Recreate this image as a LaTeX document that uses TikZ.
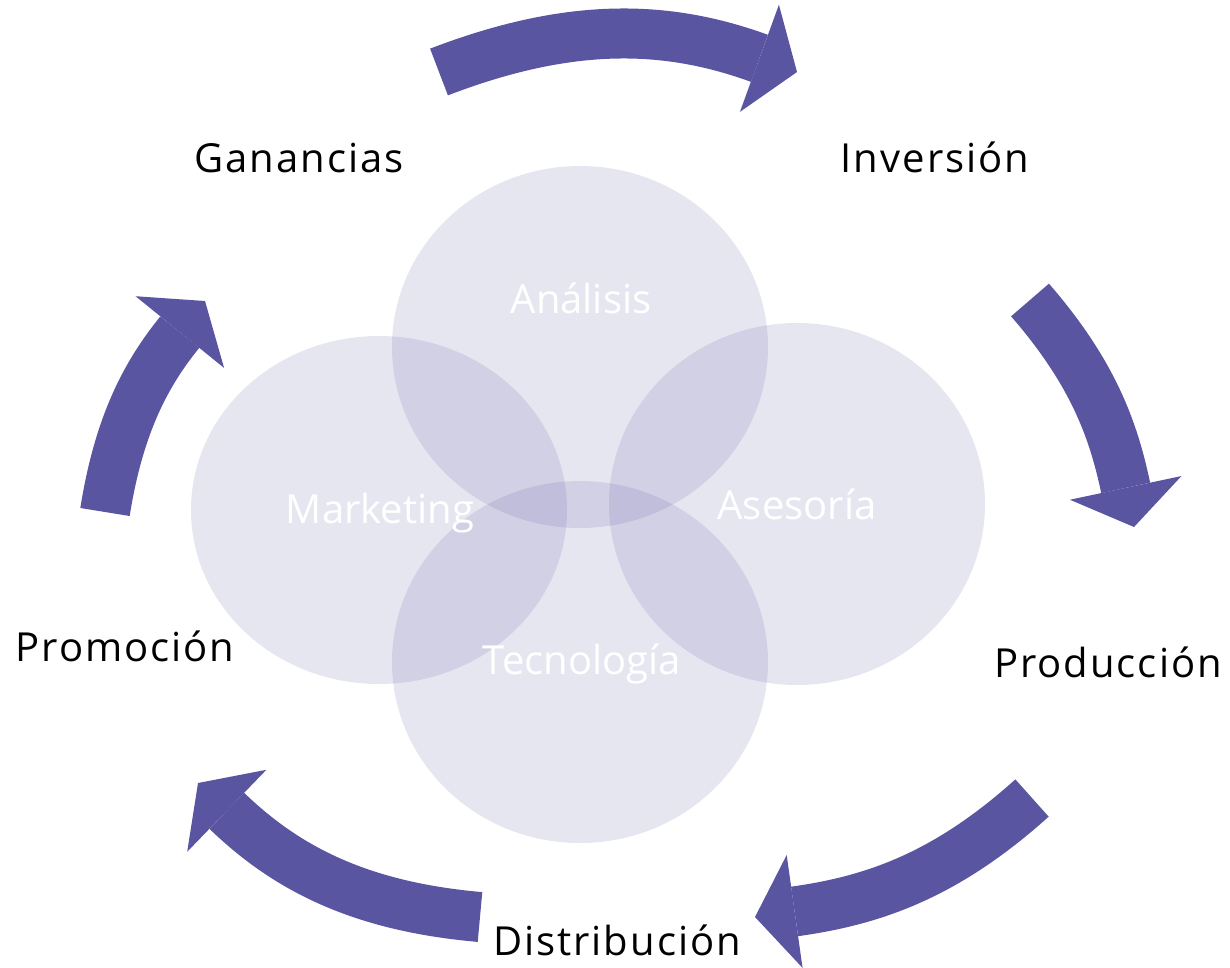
\documentclass[tikz,border=0pt]{standalone}
\usepackage{fontspec}
\setmainfont{Open Sans}[LetterSpace=5]
\newfontfamily\bubblefont{Open Sans}
\usetikzlibrary{arrows.meta,shapes.geometric}
\definecolor{cyclepurple}{RGB}{90,85,160}

\begin{document}
\begin{tikzpicture}[x=1pt,y=-1pt,
    bubble/.style={ellipse, fill=cyclepurple, fill opacity=0.15, minimum width=376pt, minimum height=362pt, inner sep=0pt},
    bubbletext/.style={anchor=base, text=white, font=\bubblefont\fontsize{40}{48}\selectfont},
    stage/.style={anchor=base, text=black, font=\fontsize{40}{48}\selectfont},
    cyclearrow/.style={draw=cyclepurple, line width=50pt, -{Triangle[length=40pt,width=114pt,line width=0pt]}},
]

\useasboundingbox (0,0) rectangle (1230,967);

\node[bubble] (analisis) at (580,347) {};
\node[bubble, minimum height=348pt] (marketing) at (379,510) {};
\node[bubble] (asesoria) at (797,504) {};
\node[bubble] (tecnologia) at (580,662) {};

\node[bubbletext] (analisis label) at (581,313) {Análisis};
\node[bubbletext] (marketing label) at (380,523) {Marketing};
\node[bubbletext] (asesoria label) at (797,519) {Asesoría};
\node[bubbletext] (tecnologia label) at (582,674) {Tecnología};

\node[stage] (ganancias) at (299,172) {Ganancias};
\node[stage] (inversion) at (935,172) {Inversión};
\node[stage] (produccion) at (1108,677) {Producción};
\node[stage] (promocion) at (125,661) {Promoción};
\node[stage] (distribucion) at (617,955) {Distribución};

\coordinate (g2i) at (439,72);
\coordinate (g2i tip) at (797,72);
\coordinate (i2p) at (1030,300);
\coordinate (i2p tip) at (1134,527);
\coordinate (p2d) at (1032,798);
\coordinate (p2d tip) at (755,917);
\coordinate (d2m) at (480,917);
\coordinate (d2m tip) at (198,783);
\coordinate (m2g) at (105,512);
\coordinate (m2g tip) at (205,301);

\draw[cyclearrow] (g2i) to[out=21, in=160] (g2i tip);
\draw[cyclearrow] (i2p) to[out=-49, in=102] (i2p tip);
\draw[cyclearrow] (p2d) to[out=222, in=8] (p2d tip);
\draw[cyclearrow] (d2m) to[out=175, in=316] (d2m tip);
\draw[cyclearrow] (m2g) to[out=81, in=231] (m2g tip);

\end{tikzpicture}
\end{document}
